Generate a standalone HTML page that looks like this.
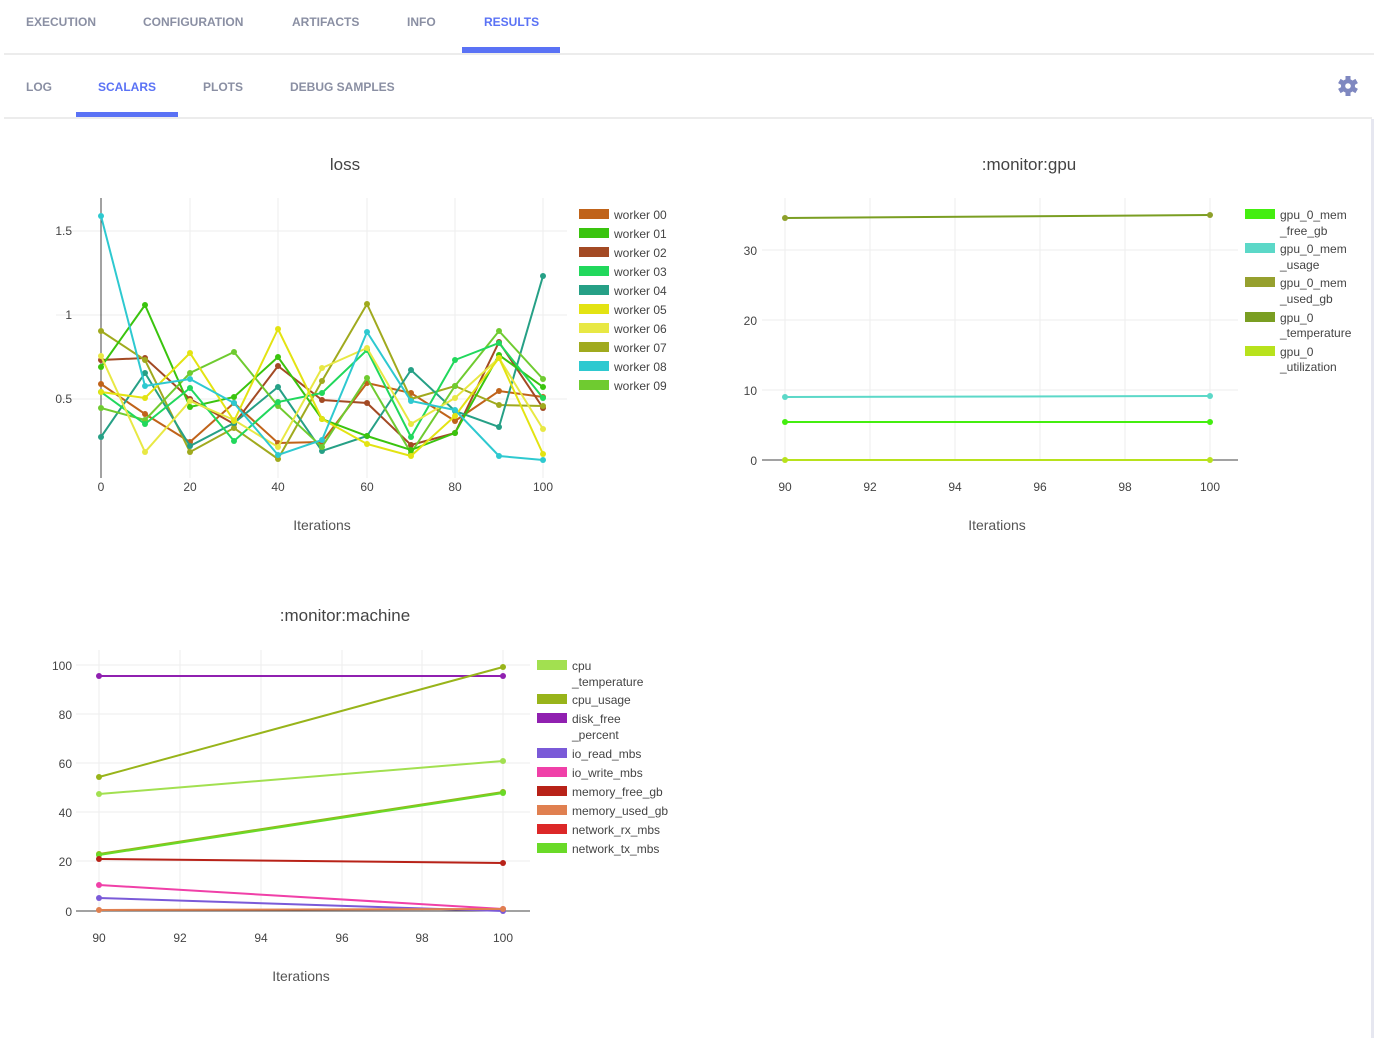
<!DOCTYPE html>
<html><head><meta charset="utf-8"><style>
html,body{margin:0;padding:0;background:#fff;}
body{width:1374px;height:1038px;overflow:hidden;position:relative;font-family:"Liberation Sans",sans-serif;}
svg{position:absolute;left:0;top:0}
.tab{font-weight:bold;font-size:12px;fill:#8a8fa3}
.act{fill:#5a72f5}
.t{font-size:12px;fill:#444}
.ti{font-size:17px;fill:#444}
.lg{font-size:12px;fill:#444}
.ax{font-size:14px;fill:#555}
</style></head><body>
<svg width="1374" height="1038" xmlns="http://www.w3.org/2000/svg">
<defs>
<marker id="m0" markerWidth="6" markerHeight="6" refX="3" refY="3" markerUnits="userSpaceOnUse"><circle cx="3" cy="3" r="3" fill="#c0631a"/></marker>
<marker id="m1" markerWidth="6" markerHeight="6" refX="3" refY="3" markerUnits="userSpaceOnUse"><circle cx="3" cy="3" r="3" fill="#3ac40e"/></marker>
<marker id="m2" markerWidth="6" markerHeight="6" refX="3" refY="3" markerUnits="userSpaceOnUse"><circle cx="3" cy="3" r="3" fill="#a34a24"/></marker>
<marker id="m3" markerWidth="6" markerHeight="6" refX="3" refY="3" markerUnits="userSpaceOnUse"><circle cx="3" cy="3" r="3" fill="#21d85c"/></marker>
<marker id="m4" markerWidth="6" markerHeight="6" refX="3" refY="3" markerUnits="userSpaceOnUse"><circle cx="3" cy="3" r="3" fill="#26a086"/></marker>
<marker id="m5" markerWidth="6" markerHeight="6" refX="3" refY="3" markerUnits="userSpaceOnUse"><circle cx="3" cy="3" r="3" fill="#e3e312"/></marker>
<marker id="m6" markerWidth="6" markerHeight="6" refX="3" refY="3" markerUnits="userSpaceOnUse"><circle cx="3" cy="3" r="3" fill="#e8e844"/></marker>
<marker id="m7" markerWidth="6" markerHeight="6" refX="3" refY="3" markerUnits="userSpaceOnUse"><circle cx="3" cy="3" r="3" fill="#a0aa1e"/></marker>
<marker id="m8" markerWidth="6" markerHeight="6" refX="3" refY="3" markerUnits="userSpaceOnUse"><circle cx="3" cy="3" r="3" fill="#2ec9d0"/></marker>
<marker id="m9" markerWidth="6" markerHeight="6" refX="3" refY="3" markerUnits="userSpaceOnUse"><circle cx="3" cy="3" r="3" fill="#6fcb30"/></marker>
<marker id="g0" markerWidth="6" markerHeight="6" refX="3" refY="3" markerUnits="userSpaceOnUse"><circle cx="3" cy="3" r="3" fill="#44ee10"/></marker>
<marker id="g1" markerWidth="6" markerHeight="6" refX="3" refY="3" markerUnits="userSpaceOnUse"><circle cx="3" cy="3" r="3" fill="#5cd8c8"/></marker>
<marker id="g2" markerWidth="6" markerHeight="6" refX="3" refY="3" markerUnits="userSpaceOnUse"><circle cx="3" cy="3" r="3" fill="#8ea02a"/></marker>
<marker id="g4" markerWidth="6" markerHeight="6" refX="3" refY="3" markerUnits="userSpaceOnUse"><circle cx="3" cy="3" r="3" fill="#b8e21c"/></marker>
<marker id="c0" markerWidth="6" markerHeight="6" refX="3" refY="3" markerUnits="userSpaceOnUse"><circle cx="3" cy="3" r="3" fill="#a2e050"/></marker>
<marker id="c1" markerWidth="6" markerHeight="6" refX="3" refY="3" markerUnits="userSpaceOnUse"><circle cx="3" cy="3" r="3" fill="#98b41a"/></marker>
<marker id="c2" markerWidth="6" markerHeight="6" refX="3" refY="3" markerUnits="userSpaceOnUse"><circle cx="3" cy="3" r="3" fill="#9020b0"/></marker>
<marker id="c3" markerWidth="6" markerHeight="6" refX="3" refY="3" markerUnits="userSpaceOnUse"><circle cx="3" cy="3" r="3" fill="#7a5ad8"/></marker>
<marker id="c4" markerWidth="6" markerHeight="6" refX="3" refY="3" markerUnits="userSpaceOnUse"><circle cx="3" cy="3" r="3" fill="#f040a8"/></marker>
<marker id="c5" markerWidth="6" markerHeight="6" refX="3" refY="3" markerUnits="userSpaceOnUse"><circle cx="3" cy="3" r="3" fill="#b82218"/></marker>
<marker id="c6" markerWidth="6" markerHeight="6" refX="3" refY="3" markerUnits="userSpaceOnUse"><circle cx="3" cy="3" r="3" fill="#e08050"/></marker>
<marker id="c8" markerWidth="6" markerHeight="6" refX="3" refY="3" markerUnits="userSpaceOnUse"><circle cx="3" cy="3" r="3" fill="#6ada28"/></marker>
</defs>

<text x="26" y="26" class="tab">EXECUTION</text>
<text x="143" y="26" class="tab">CONFIGURATION</text>
<text x="292" y="26" class="tab">ARTIFACTS</text>
<text x="407" y="26" class="tab">INFO</text>
<text x="484" y="26" class="tab act">RESULTS</text>
<rect x="462" y="47" width="98" height="6" fill="#5a72f5"/>
<rect x="4" y="53" width="1370" height="2" fill="#ececec"/>
<text x="26" y="91" class="tab">LOG</text>
<text x="98" y="91" class="tab act">SCALARS</text>
<text x="203" y="91" class="tab">PLOTS</text>
<text x="290" y="91" class="tab">DEBUG SAMPLES</text>
<rect x="76" y="112" width="102" height="6" fill="#5a72f5"/>
<rect x="4" y="117" width="1368" height="2" fill="#ececec"/>
<rect x="1371" y="119" width="3" height="919" fill="#e6e7f0"/>
<g transform="translate(1348,86)" fill="#7f88c0">
<circle r="7"/>
<rect x="-2.5" y="-10" width="5" height="20"/>
<rect x="-2.5" y="-10" width="5" height="20" transform="rotate(60)"/>
<rect x="-2.5" y="-10" width="5" height="20" transform="rotate(120)"/>
<circle r="2.8" fill="#fff"/>
</g>

<text x="345" y="170" class="ti" text-anchor="middle">loss</text>
<g stroke="#eeeeee" stroke-width="1">
<line x1="56" y1="231" x2="567" y2="231"/><line x1="56" y1="315" x2="567" y2="315"/><line x1="56" y1="399" x2="567" y2="399"/>
<line x1="190" y1="198" x2="190" y2="478"/><line x1="278" y1="198" x2="278" y2="478"/><line x1="367" y1="198" x2="367" y2="478"/><line x1="455" y1="198" x2="455" y2="478"/><line x1="543" y1="198" x2="543" y2="478"/>
</g>
<line x1="101" y1="198" x2="101" y2="478" stroke="#444" stroke-width="1"/>
<g text-anchor="end"><text x="72" y="235" class="t">1.5</text><text x="72" y="319" class="t">1</text><text x="72" y="403" class="t">0.5</text></g>
<g text-anchor="middle"><text x="101" y="491" class="t">0</text><text x="190" y="491" class="t">20</text><text x="278" y="491" class="t">40</text><text x="367" y="491" class="t">60</text><text x="455" y="491" class="t">80</text><text x="543" y="491" class="t">100</text></g>
<text x="322" y="530" class="ax" text-anchor="middle">Iterations</text>
<g fill="none" stroke-width="2">
<polyline stroke="#c0631a" marker-start="url(#m0)" marker-mid="url(#m0)" marker-end="url(#m0)" points="101,384 145,414 190,442 234,403 278,443 322,442 367,383 411,393 455,421 499,391 543,397"/>
<polyline stroke="#a34a24" marker-start="url(#m2)" marker-mid="url(#m2)" marker-end="url(#m2)" points="101,360 145,358 190,399 234,424 278,366 322,400 367,403 411,445 455,433 499,342 543,408"/>
<polyline stroke="#a0aa1e" marker-start="url(#m7)" marker-mid="url(#m7)" marker-end="url(#m7)" points="101,331 145,360 190,452 234,428 278,459 322,381 367,304 411,399 455,386 499,405 543,406"/>
<polyline stroke="#26a086" marker-start="url(#m4)" marker-mid="url(#m4)" marker-end="url(#m4)" points="101,437 145,373 190,446 234,423 278,387 322,451 367,436 411,370 455,411 499,427 543,276"/>
<polyline stroke="#6fcb30" marker-start="url(#m9)" marker-mid="url(#m9)" marker-end="url(#m9)" points="101,408 145,420 190,373 234,352 278,406 322,447 367,378 411,453 455,386 499,331 543,379"/>
<polyline stroke="#3ac40e" marker-start="url(#m1)" marker-mid="url(#m1)" marker-end="url(#m1)" points="101,367 145,305 190,407 234,397 278,357 322,419 367,436 411,450 455,433 499,355 543,387"/>
<polyline stroke="#21d85c" marker-start="url(#m3)" marker-mid="url(#m3)" marker-end="url(#m3)" points="101,392 145,424 190,388 234,441 278,402 322,393 367,350 411,437 455,360 499,343 543,398"/>
<polyline stroke="#e8e844" marker-start="url(#m6)" marker-mid="url(#m6)" marker-end="url(#m6)" points="101,356 145,452 190,401 234,420 278,447 322,368 367,348 411,424 455,398 499,358 543,429"/>
<polyline stroke="#e3e312" marker-start="url(#m5)" marker-mid="url(#m5)" marker-end="url(#m5)" points="101,392 145,398 190,353 234,421 278,329 322,419 367,444 411,456 455,416 499,358 543,454"/>
<polyline stroke="#2ec9d0" marker-start="url(#m8)" marker-mid="url(#m8)" marker-end="url(#m8)" points="101,216 145,386 190,379 234,403 278,455 322,440 367,332 411,401 455,410 499,456 543,460"/>
</g>
<rect x="579" y="209" width="30" height="10" fill="#c0631a"/><text x="614" y="219" class="lg">worker 00</text>
<rect x="579" y="228" width="30" height="10" fill="#3ac40e"/><text x="614" y="238" class="lg">worker 01</text>
<rect x="579" y="247" width="30" height="10" fill="#a34a24"/><text x="614" y="257" class="lg">worker 02</text>
<rect x="579" y="266" width="30" height="10" fill="#21d85c"/><text x="614" y="276" class="lg">worker 03</text>
<rect x="579" y="285" width="30" height="10" fill="#26a086"/><text x="614" y="295" class="lg">worker 04</text>
<rect x="579" y="304" width="30" height="10" fill="#e3e312"/><text x="614" y="314" class="lg">worker 05</text>
<rect x="579" y="323" width="30" height="10" fill="#e8e844"/><text x="614" y="333" class="lg">worker 06</text>
<rect x="579" y="342" width="30" height="10" fill="#a0aa1e"/><text x="614" y="352" class="lg">worker 07</text>
<rect x="579" y="361" width="30" height="10" fill="#2ec9d0"/><text x="614" y="371" class="lg">worker 08</text>
<rect x="579" y="380" width="30" height="10" fill="#6fcb30"/><text x="614" y="390" class="lg">worker 09</text>

<text x="1029" y="170" class="ti" text-anchor="middle">:monitor:gpu</text>
<g stroke="#eeeeee" stroke-width="1">
<line x1="762" y1="250" x2="1238" y2="250"/><line x1="762" y1="320" x2="1238" y2="320"/><line x1="762" y1="390" x2="1238" y2="390"/>
<line x1="785" y1="198" x2="785" y2="460"/><line x1="870" y1="198" x2="870" y2="460"/><line x1="955" y1="198" x2="955" y2="460"/><line x1="1040" y1="198" x2="1040" y2="460"/><line x1="1125" y1="198" x2="1125" y2="460"/><line x1="1210" y1="198" x2="1210" y2="460"/>
</g>
<line x1="762" y1="460" x2="1238" y2="460" stroke="#444"/>
<g text-anchor="end"><text x="757" y="255" class="t">30</text><text x="757" y="325" class="t">20</text><text x="757" y="395" class="t">10</text><text x="757" y="465" class="t">0</text></g>
<g text-anchor="middle"><text x="785" y="491" class="t">90</text><text x="870" y="491" class="t">92</text><text x="955" y="491" class="t">94</text><text x="1040" y="491" class="t">96</text><text x="1125" y="491" class="t">98</text><text x="1210" y="491" class="t">100</text></g>
<text x="997" y="530" class="ax" text-anchor="middle">Iterations</text>
<g fill="none" stroke-width="2">
<polyline stroke="#7a9e22" marker-start="url(#g2)" marker-end="url(#g2)" points="785,218 1210,215"/>
<polyline stroke="#5cd8c8" marker-start="url(#g1)" marker-end="url(#g1)" points="785,397 1210,396"/>
<polyline stroke="#44ee10" marker-start="url(#g0)" marker-end="url(#g0)" points="785,422 1210,422"/>
<polyline stroke="#b8e21c" marker-start="url(#g4)" marker-end="url(#g4)" points="785,460 1210,460"/>
</g>
<rect x="1245" y="209" width="30" height="10" fill="#44ee10"/><text x="1280" y="219" class="lg">gpu_0_mem</text><text x="1280" y="235" class="lg">_free_gb</text>
<rect x="1245" y="243" width="30" height="10" fill="#5cd8c8"/><text x="1280" y="253" class="lg">gpu_0_mem</text><text x="1280" y="269" class="lg">_usage</text>
<rect x="1245" y="277" width="30" height="10" fill="#96a02e"/><text x="1280" y="287" class="lg">gpu_0_mem</text><text x="1280" y="303" class="lg">_used_gb</text>
<rect x="1245" y="312" width="30" height="10" fill="#7a9e22"/><text x="1280" y="322" class="lg">gpu_0</text><text x="1280" y="337" class="lg">_temperature</text>
<rect x="1245" y="346" width="30" height="10" fill="#b8e21c"/><text x="1280" y="356" class="lg">gpu_0</text><text x="1280" y="371" class="lg">_utilization</text>

<text x="345" y="621" class="ti" text-anchor="middle">:monitor:machine</text>
<g stroke="#eeeeee" stroke-width="1">
<line x1="76" y1="665" x2="530" y2="665"/><line x1="76" y1="714" x2="530" y2="714"/><line x1="76" y1="763" x2="530" y2="763"/><line x1="76" y1="812" x2="530" y2="812"/><line x1="76" y1="861" x2="530" y2="861"/>
<line x1="99" y1="650" x2="99" y2="911"/><line x1="180" y1="650" x2="180" y2="911"/><line x1="261" y1="650" x2="261" y2="911"/><line x1="342" y1="650" x2="342" y2="911"/><line x1="422" y1="650" x2="422" y2="911"/><line x1="503" y1="650" x2="503" y2="911"/>
</g>
<line x1="76" y1="911" x2="530" y2="911" stroke="#444"/>
<g text-anchor="end"><text x="72" y="670" class="t">100</text><text x="72" y="719" class="t">80</text><text x="72" y="768" class="t">60</text><text x="72" y="817" class="t">40</text><text x="72" y="866" class="t">20</text><text x="72" y="916" class="t">0</text></g>
<g text-anchor="middle"><text x="99" y="942" class="t">90</text><text x="180" y="942" class="t">92</text><text x="261" y="942" class="t">94</text><text x="342" y="942" class="t">96</text><text x="422" y="942" class="t">98</text><text x="503" y="942" class="t">100</text></g>
<text x="301" y="981" class="ax" text-anchor="middle">Iterations</text>
<g fill="none" stroke-width="2">
<polyline stroke="#9020b0" marker-start="url(#c2)" marker-end="url(#c2)" points="99,676 503,676"/>
<polyline stroke="#98b41a" marker-start="url(#c1)" marker-end="url(#c1)" points="99,777 503,667"/>
<polyline stroke="#a2e050" marker-start="url(#c0)" marker-end="url(#c0)" points="99,794 503,761"/>
<polyline stroke="#98b41a" marker-start="url(#c1)" marker-end="url(#c1)" points="99,854 503,792"/>
<polyline stroke="#6ada28" marker-start="url(#c8)" marker-end="url(#c8)" points="99,855 503,793"/>
<polyline stroke="#b82218" marker-start="url(#c5)" marker-end="url(#c5)" points="99,859 503,863"/>
<polyline stroke="#f040a8" marker-start="url(#c4)" marker-end="url(#c4)" points="99,885 503,909"/>
<polyline stroke="#7a5ad8" marker-start="url(#c3)" marker-end="url(#c3)" points="99,898 503,911"/>
<polyline stroke="#e08050" marker-start="url(#c6)" marker-end="url(#c6)" points="99,910 503,909"/>
</g>
<rect x="537" y="660" width="30" height="10" fill="#a2e050"/><text x="572" y="670" class="lg">cpu</text><text x="572" y="686" class="lg">_temperature</text>
<rect x="537" y="694" width="30" height="10" fill="#98b41a"/><text x="572" y="704" class="lg">cpu_usage</text>
<rect x="537" y="713" width="30" height="10" fill="#9020b0"/><text x="572" y="723" class="lg">disk_free</text><text x="572" y="739" class="lg">_percent</text>
<rect x="537" y="748" width="30" height="10" fill="#7a5ad8"/><text x="572" y="758" class="lg">io_read_mbs</text>
<rect x="537" y="767" width="30" height="10" fill="#f040a8"/><text x="572" y="777" class="lg">io_write_mbs</text>
<rect x="537" y="786" width="30" height="10" fill="#b82218"/><text x="572" y="796" class="lg">memory_free_gb</text>
<rect x="537" y="805" width="30" height="10" fill="#e08050"/><text x="572" y="815" class="lg">memory_used_gb</text>
<rect x="537" y="824" width="30" height="10" fill="#dc2828"/><text x="572" y="834" class="lg">network_rx_mbs</text>
<rect x="537" y="843" width="30" height="10" fill="#6ada28"/><text x="572" y="853" class="lg">network_tx_mbs</text>
</svg>
</body></html>
